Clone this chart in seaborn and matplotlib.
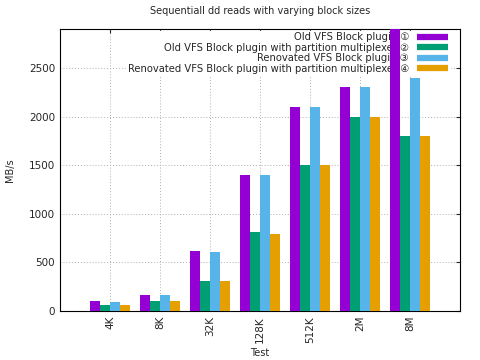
import pandas as pd
import numpy as np
import seaborn as sns
import matplotlib.pyplot as plt
import matplotlib.lines as mlines

tests = ['4K', '8K', '32K', '128K', '512K', '2M', '8M']
series = ['Old VFS Block plugin ①',
          'Old VFS Block plugin with partition multiplexer ②',
          'Renovated VFS Block plugin ③',
          'Renovated VFS Block plugin with partition multiplexer ④']
old_plain = [105, 170, 620, 1400, 2100, 2300, 2950]
old_mux = [65, 105, 305, 810, 1500, 2000, 1800]
new_plain = [95, 160, 610, 1400, 2100, 2300, 2400]
new_mux = [65, 100, 305, 790, 1500, 2000, 1800]
colors = ['#9400D3', '#009E73', '#56B4E9', '#E69F00']

rows = []
for name, vals in zip(series, [old_plain, old_mux, new_plain, new_mux]):
    for t, v in zip(tests, vals):
        rows.append({'Test': t, 'MB/s': v, 'Plugin': name})
df = pd.DataFrame(rows)

sns.set_style('white')
plt.rcParams['font.family'] = ['DejaVu Sans', 'Noto Sans CJK JP']

fig = plt.figure(figsize=(4.8, 3.6), dpi=100)
ax = fig.add_axes([0.125, 0.136, 0.833, 0.783])

sns.barplot(data=df, x='Test', y='MB/s', hue='Plugin', order=tests,
            hue_order=series, palette=colors, linewidth=0, saturation=1,
            width=0.8, legend=False, ax=ax)
for p in ax.patches:
    p.set_zorder(3)

ax.set_xlim(-1, 7)
ax.set_ylim(0, 2900)
ax.set_yticks(np.arange(0, 2501, 500))
ax.set_axisbelow(True)
ax.grid(True, color='#b0b0b0', linestyle=(0, (1, 2)), linewidth=0.7)
ax.tick_params(direction='in', top=True, right=True, labelsize=7.5, length=3)
plt.setp(ax.get_xticklabels(), rotation=90)
for s in ax.spines.values():
    s.set_color('black')
    s.set_linewidth(0.8)

ax.set_title('Sequentiall dd reads with varying block sizes', fontsize=7, pad=11)
ax.set_xlabel('Test', fontsize=7)
ax.set_ylabel('MB/s', fontsize=7, labelpad=10)

handles = [mlines.Line2D([], [], color=c, linewidth=4.5, solid_capstyle='butt')
           for c in colors]
leg = ax.legend(handles, series, loc='upper right', bbox_to_anchor=(0.978, 1.0),
                markerfirst=False, fontsize=7.2, frameon=True, fancybox=False,
                framealpha=1, edgecolor='white', handlelength=3.1,
                labelspacing=0.05, borderpad=0.1, borderaxespad=0.2,
                handletextpad=0.8)
leg.set_zorder(2.5)

fig.savefig('out.png', dpi=100)
